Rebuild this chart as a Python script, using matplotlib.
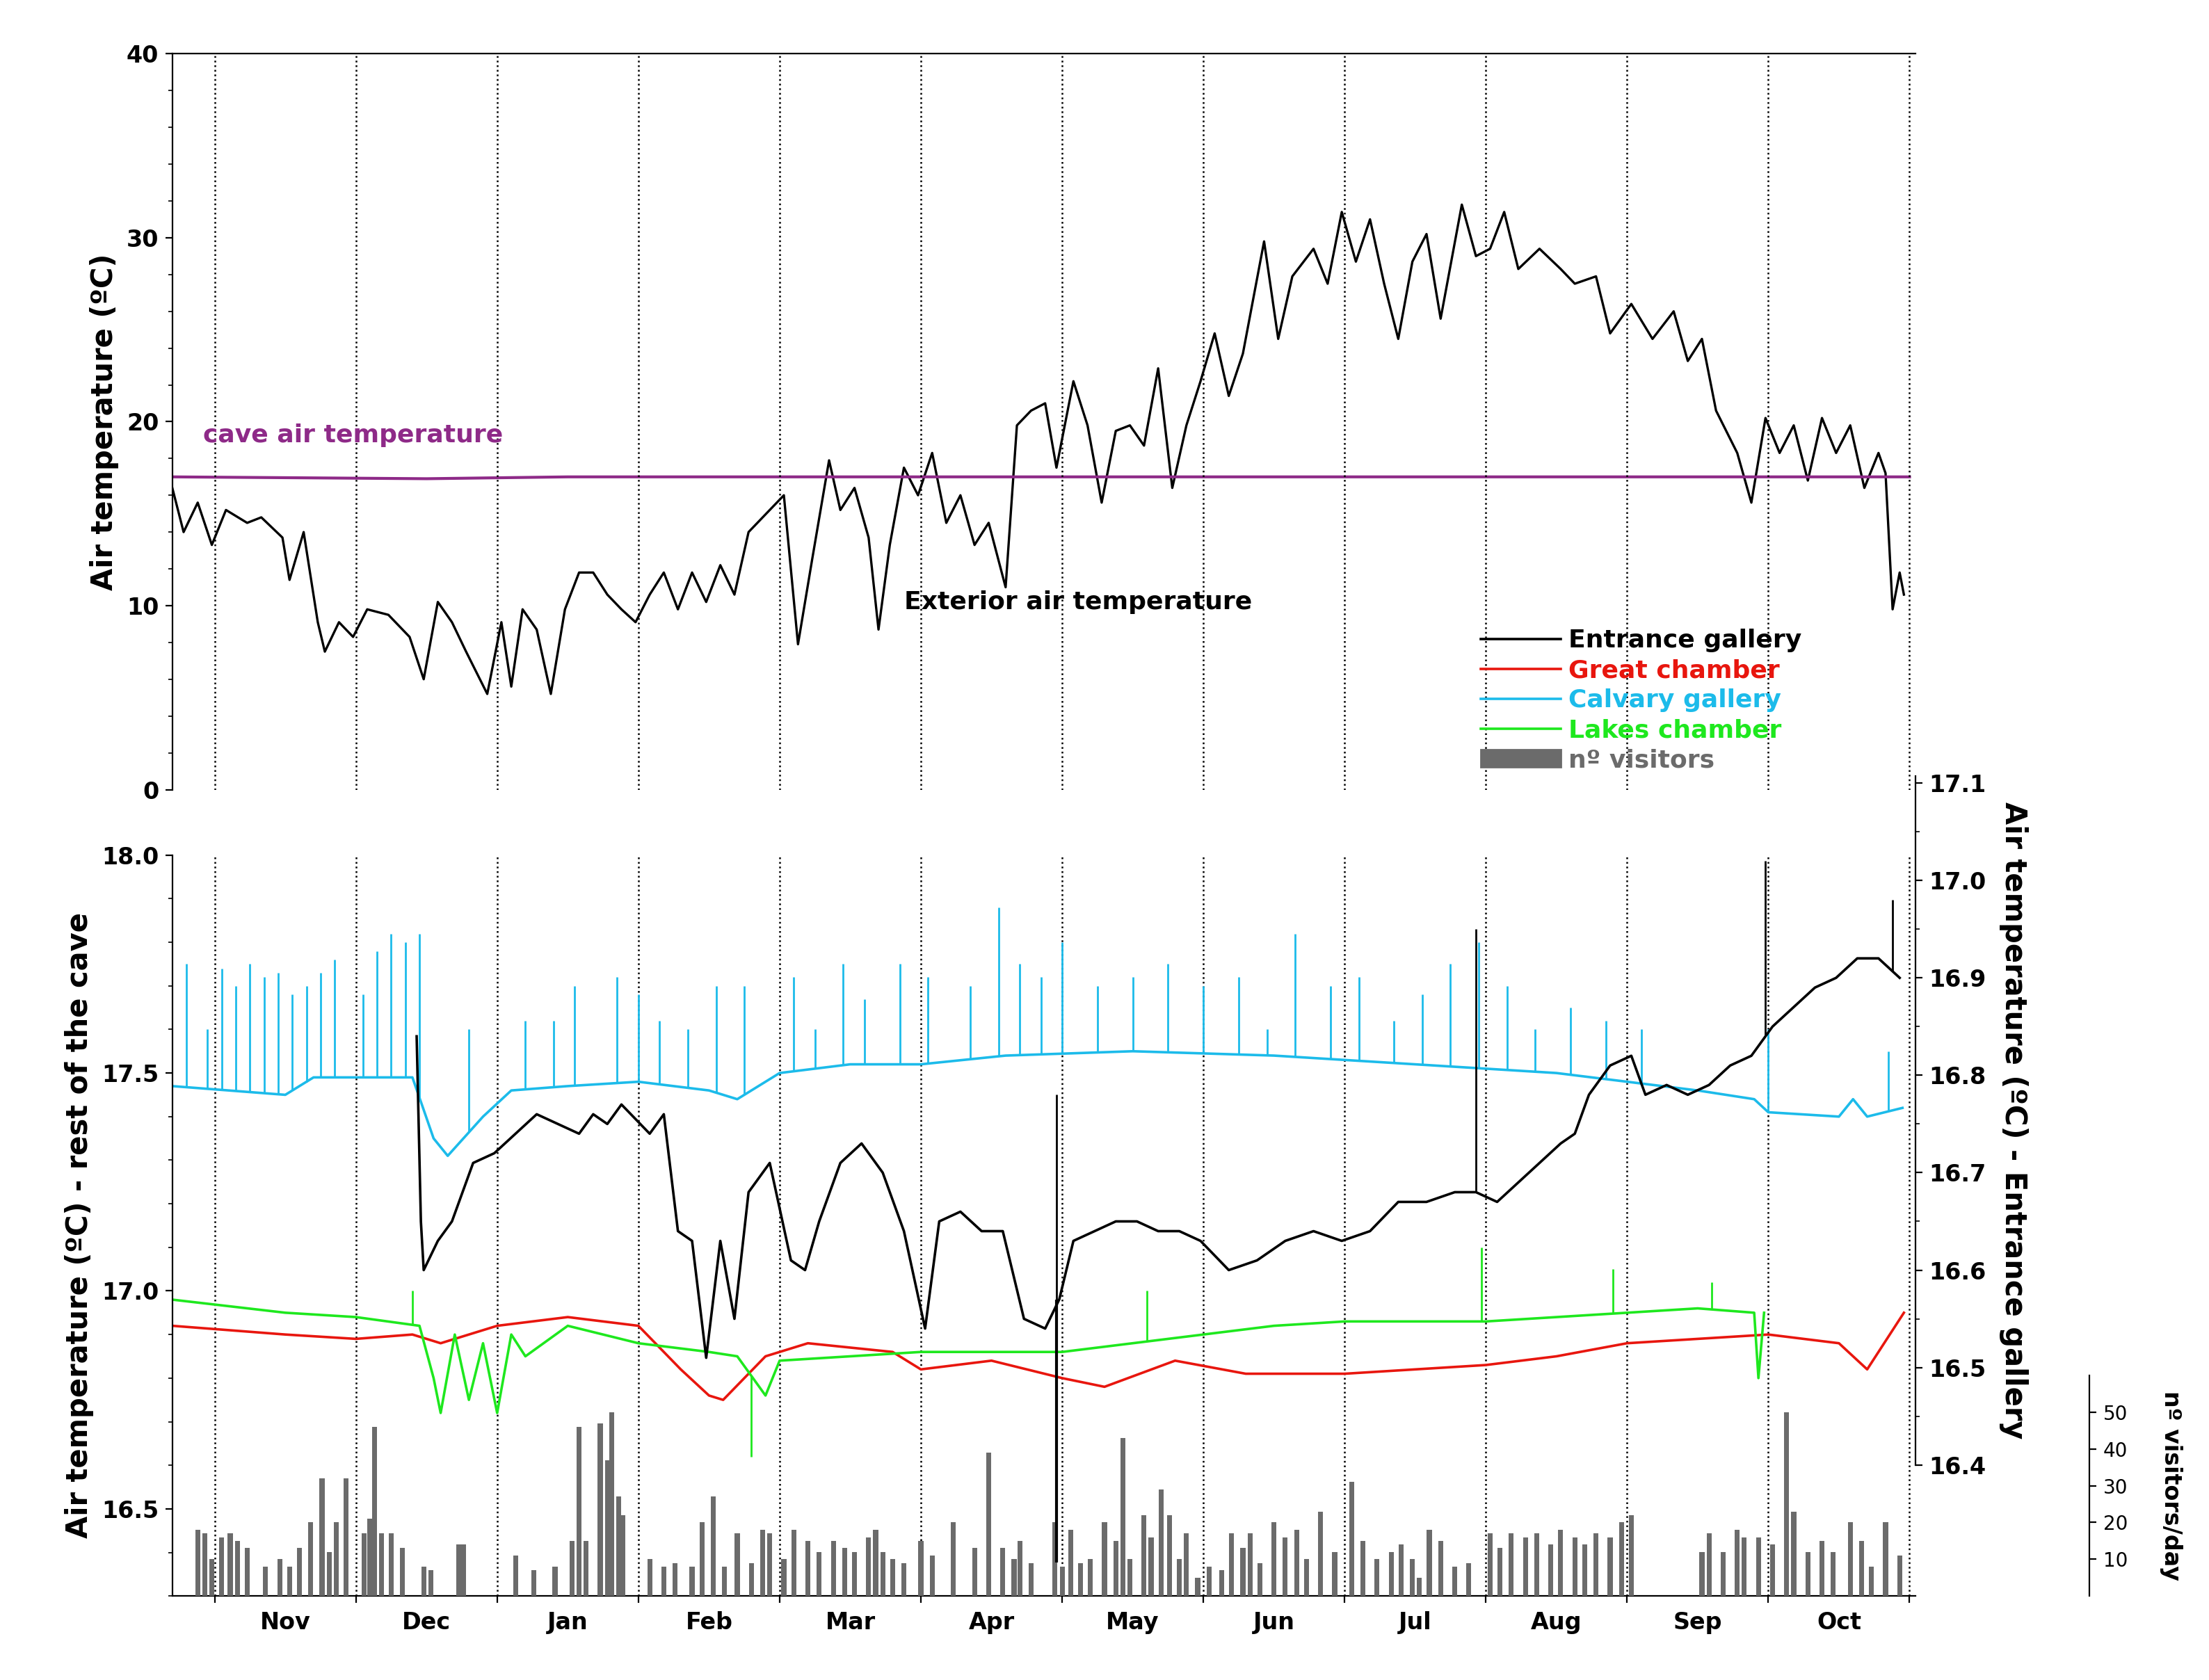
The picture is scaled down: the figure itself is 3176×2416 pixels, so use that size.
import numpy as np
import matplotlib
matplotlib.use("Agg")
import matplotlib.pyplot as plt
from matplotlib.lines import Line2D
from matplotlib.patches import Patch

months = ["Nov","Dec","Jan","Feb","Mar","Apr","May","Jun","Jul","Aug","Sep","Oct"]

ext_m = [-0.30,-0.22,-0.12,-0.02,0.08,0.23,0.33,0.48,0.53,0.63,0.73,0.78,0.88,0.98,1.08,1.23,1.38,1.48,1.58,1.68,1.78,1.93,2.03,2.10,2.18,2.28,2.38,2.48,2.58,2.68,2.78,2.88,2.98,3.08,3.18,3.28,3.38,3.48,3.58,3.68,3.78,3.93,4.03,4.13,4.23,4.35,4.43,4.53,4.63,4.70,4.78,4.88,4.98,5.08,5.18,5.28,5.38,5.48,5.60,5.68,5.78,5.88,5.96,6.08,6.18,6.28,6.38,6.48,6.58,6.68,6.78,6.88,6.98,7.08,7.18,7.28,7.43,7.53,7.63,7.78,7.88,7.98,8.08,8.18,8.28,8.38,8.48,8.58,8.68,8.83,8.93,9.03,9.13,9.23,9.38,9.53,9.63,9.78,9.88,10.03,10.18,10.33,10.43,10.53,10.63,10.78,10.88,10.98,11.08,11.18,11.28,11.38,11.48,11.58,11.68,11.78,11.83,11.88,11.93,11.96]
ext_t = [16.4,14,15.6,13.3,15.2,14.5,14.8,13.7,11.4,14,9.1,7.5,9.1,8.3,9.8,9.5,8.3,6,10.2,9.1,7.5,5.2,9.1,5.6,9.8,8.7,5.2,9.8,11.8,11.8,10.6,9.8,9.1,10.6,11.8,9.8,11.8,10.2,12.2,10.6,14,15.2,16,7.9,12.5,17.9,15.2,16.4,13.7,8.7,13.3,17.5,16,18.3,14.5,16,13.3,14.5,11,19.8,20.6,21,17.5,22.2,19.8,15.6,19.5,19.8,18.7,22.9,16.4,19.8,22.2,24.8,21.4,23.7,29.8,24.5,27.9,29.4,27.5,31.4,28.7,31,27.5,24.5,28.7,30.2,25.6,31.8,29,29.4,31.4,28.3,29.4,28.3,27.5,27.9,24.8,26.4,24.5,26,23.3,24.5,20.6,18.3,15.6,20.2,18.3,19.8,16.8,20.2,18.3,19.8,16.4,18.3,17.2,9.8,11.8,10.6]

cave_m = [-0.3,1.5,2.5,12.0]
cave_t = [17.0,16.9,17.0,17.0]

calv_m = [-0.3,0.5,0.7,1.4,1.55,1.65,1.9,2.1,2.5,3.0,3.5,3.7,4.0,4.5,5.0,5.6,6.5,7.5,8.5,9.0,9.5,10.0,10.5,10.9,11.0,11.5,11.6,11.7,11.95]
calv_t = [17.47,17.45,17.49,17.49,17.35,17.31,17.40,17.46,17.47,17.48,17.46,17.44,17.50,17.52,17.52,17.54,17.55,17.54,17.52,17.51,17.50,17.48,17.46,17.44,17.41,17.40,17.44,17.40,17.42]
calv_spk_m = [-0.2,-0.05,0.05,0.15,0.25,0.35,0.45,0.55,0.65,0.75,0.85,1.05,1.15,1.25,1.35,1.45,1.8,2.2,2.4,2.55,2.85,3.0,3.15,3.35,3.55,3.75,4.1,4.25,4.45,4.6,4.85,5.05,5.35,5.55,5.7,5.85,6.0,6.25,6.5,6.75,7.0,7.25,7.45,7.65,7.9,8.1,8.35,8.55,8.75,8.95,9.15,9.35,9.6,9.85,10.1,11.0,11.85]
calv_spk_t = [17.75,17.6,17.74,17.7,17.75,17.72,17.73,17.68,17.7,17.73,17.76,17.68,17.78,17.82,17.8,17.82,17.6,17.62,17.62,17.7,17.72,17.68,17.62,17.6,17.7,17.7,17.72,17.6,17.75,17.67,17.75,17.72,17.7,17.88,17.75,17.72,17.8,17.7,17.72,17.75,17.7,17.72,17.6,17.82,17.7,17.72,17.62,17.68,17.75,17.8,17.7,17.6,17.65,17.62,17.6,17.6,17.55]

lake_m = [-0.3,0.5,1.0,1.45,1.55,1.6,1.7,1.8,1.9,2.0,2.1,2.2,2.5,3.0,3.5,3.7,3.9,4.0,4.5,5.0,5.5,6.0,6.5,7.0,7.5,8.0,8.5,9.0,9.5,10.0,10.5,10.9,10.93,10.97]
lake_t = [16.98,16.95,16.94,16.92,16.80,16.72,16.90,16.75,16.88,16.72,16.90,16.85,16.92,16.88,16.86,16.85,16.76,16.84,16.85,16.86,16.86,16.86,16.88,16.90,16.92,16.93,16.93,16.93,16.94,16.95,16.96,16.95,16.80,16.95]
lake_spk_m = [1.4,3.8,6.6,8.97,9.9,10.6]
lake_spk_t = [17.0,16.62,17.0,17.1,17.05,17.02]

great_m = [-0.3,0.5,1.0,1.4,1.6,2.0,2.5,3.0,3.3,3.5,3.6,3.9,4.2,4.5,4.8,5.0,5.5,6.0,6.3,6.8,7.3,8.0,8.5,9.0,9.5,10.0,10.5,11.0,11.5,11.7,11.96]
great_t = [16.92,16.90,16.89,16.90,16.88,16.92,16.94,16.92,16.82,16.76,16.75,16.85,16.88,16.87,16.86,16.82,16.84,16.80,16.78,16.84,16.81,16.81,16.82,16.83,16.85,16.88,16.89,16.90,16.88,16.82,16.95]

ent_m = [1.43,1.46,1.48,1.58,1.68,1.83,1.98,2.13,2.28,2.43,2.58,2.68,2.78,2.88,3.08,3.18,3.28,3.38,3.48,3.58,3.68,3.78,3.93,4.08,4.18,4.28,4.43,4.58,4.73,4.88,5.03,5.13,5.28,5.43,5.58,5.73,5.88,5.98,6.08,6.23,6.38,6.53,6.68,6.83,6.98,7.18,7.38,7.58,7.78,7.98,8.18,8.38,8.58,8.78,8.93,9.08,9.23,9.38,9.53,9.63,9.73,9.88,10.03,10.13,10.28,10.43,10.58,10.73,10.88,11.03,11.18,11.33,11.48,11.63,11.78,11.93]
ent_t = [16.84,16.65,16.60,16.63,16.65,16.71,16.72,16.74,16.76,16.75,16.74,16.76,16.75,16.77,16.74,16.76,16.64,16.63,16.51,16.63,16.55,16.68,16.71,16.61,16.60,16.65,16.71,16.73,16.70,16.64,16.54,16.65,16.66,16.64,16.64,16.55,16.54,16.57,16.63,16.64,16.65,16.65,16.64,16.64,16.63,16.60,16.61,16.63,16.64,16.63,16.64,16.67,16.67,16.68,16.68,16.67,16.69,16.71,16.73,16.74,16.78,16.81,16.82,16.78,16.79,16.78,16.79,16.81,16.82,16.85,16.87,16.89,16.90,16.92,16.92,16.90]
ent_spk_m = [5.96,8.93,10.98,11.88]
ent_spk_t = [16.78,16.95,17.02,16.98]

vis_m = [-0.12,-0.07,-0.02,0.05,0.11,0.16,0.23,0.36,0.46,0.53,0.6,0.68,0.76,0.81,0.86,0.93,1.06,1.1,1.13,1.18,1.25,1.33,1.48,1.53,1.73,1.76,2.13,2.26,2.41,2.53,2.58,2.63,2.73,2.78,2.81,2.86,2.89,3.08,3.18,3.26,3.38,3.45,3.53,3.61,3.7,3.8,3.88,3.93,4.03,4.1,4.2,4.28,4.38,4.46,4.53,4.63,4.68,4.73,4.8,4.88,5.0,5.08,5.23,5.38,5.48,5.58,5.66,5.7,5.78,5.95,6.0,6.06,6.13,6.2,6.3,6.38,6.43,6.48,6.58,6.63,6.7,6.76,6.83,6.88,6.96,7.04,7.13,7.2,7.28,7.33,7.4,7.5,7.58,7.66,7.73,7.83,7.93,8.05,8.13,8.23,8.33,8.4,8.48,8.53,8.6,8.68,8.78,8.88,9.03,9.1,9.18,9.28,9.36,9.46,9.53,9.63,9.7,9.78,9.88,9.96,10.03,10.53,10.58,10.68,10.78,10.83,10.93,11.03,11.13,11.18,11.28,11.38,11.46,11.58,11.66,11.73,11.83,11.93]
vis_n = [18,17,10,16,17,15,13,8,10,8,13,20,32,12,20,32,17,21,46,17,17,13,8,7,14,14,11,7,8,15,46,15,47,37,50,27,22,10,8,9,8,20,27,8,17,9,18,17,10,18,15,12,15,13,12,16,18,12,10,9,15,11,20,13,39,13,10,15,9,20,8,18,9,10,20,15,43,10,22,16,29,22,10,17,5,8,7,17,13,17,9,20,16,18,10,23,12,31,15,10,12,14,10,5,18,15,8,9,17,13,17,16,17,14,18,16,14,17,16,20,22,12,17,12,18,16,16,14,50,23,12,15,12,20,15,8,20,11]

BLUE = "#1CBBEA"; GREEN = "#1EE81E"; RED = "#E8160E"; PURP = "#8E2A88"; GREY = "#6B6B6B"
bold = dict(fontweight="bold")

fig = plt.figure(figsize=(15.88, 12.08), dpi=200)
XL = (-0.3, 12.04)

# top panel
ax1 = fig.add_axes([0.078, 0.530, 0.789, 0.438])
ax1.plot(ext_m, ext_t, color="black", lw=1.2)
ax1.plot(cave_m, cave_t, color=PURP, lw=1.5)
ax1.set_xlim(*XL); ax1.set_ylim(0, 40)
ax1.set_yticks([0,10,20,30,40]); ax1.set_yticks(np.arange(0,41,2), minor=True)
ax1.set_xticks([])
for s in ["right","bottom"]:
    ax1.spines[s].set_visible(False)
ax1.tick_params(labelsize=12)
for l in ax1.get_yticklabels(): l.set_fontweight("bold")
ax1.set_ylabel("Air temperature (ºC)", fontsize=15, **bold)
for k in range(13):
    ax1.axvline(k, color="black", ls=":", lw=0.9)
ax1.text(-0.08, 18.9, "cave air temperature", color=PURP, fontsize=13, **bold)
ax1.text(4.88, 9.8, "Exterior air temperature", color="black", fontsize=13, **bold)

# bottom panel
ax2 = fig.add_axes([0.078, 0.050, 0.789, 0.441])
ax2.set_xlim(*XL); ax2.set_ylim(16.3, 18.0)
for k in range(13):
    ax2.axvline(k, color="black", ls=":", lw=0.9)
ax2.plot(calv_m, calv_t, color=BLUE, lw=1.3)
ax2.vlines(calv_spk_m, np.interp(calv_spk_m, calv_m, calv_t), calv_spk_t, color=BLUE, lw=1.0)
ax2.plot(great_m, great_t, color=RED, lw=1.3)
ax2.plot(lake_m, lake_t, color=GREEN, lw=1.3)
ax2.vlines(lake_spk_m, np.interp(lake_spk_m, lake_m, lake_t), lake_spk_t, color=GREEN, lw=1.0)
ax2.set_yticks([16.5,17.0,17.5,18.0]); ax2.set_yticks(np.arange(16.3,18.01,0.1), minor=True)
ax2.set_yticklabels(["16.5","17.0","17.5","18.0"], fontsize=12, fontweight="bold")
ax2.set_xticks(range(13)); ax2.set_xticklabels([])
ax2.set_xticks(np.arange(0.5,12,1), minor=True)
ax2.set_xticklabels(months, minor=True, fontsize=12, fontweight="bold")
ax2.tick_params(axis="x", which="minor", length=0, pad=8)
ax2.set_ylabel("Air temperature (ºC) - rest of the cave", fontsize=15, **bold)
for s in ["right","top"]:
    ax2.spines[s].set_visible(False)

# visitors
ax4 = ax2.twinx()
ax4.bar(vis_m, vis_n, width=0.035, color=GREY)
ax4.set_ylim(0, 201.5); ax4.set_xlim(*XL)
ax4.set_yticks([10,20,30,40,50])
ax4.set_yticklabels(["10","20","30","40","50"], fontsize=11, fontweight="bold")
for s in ["top","left","bottom"]:
    ax4.spines[s].set_visible(False)
ax4.spines["right"].set_position(("axes", 1.10))
ax4.spines["right"].set_bounds(0, 60)
ax4.text(1.147, 30, "nº visitors/day", rotation=-90, transform=ax4.get_yaxis_transform(),
         ha="center", va="center", fontsize=12, **bold)

# entrance gallery (right axis)
ax3 = fig.add_axes([0.078, 0.128, 0.789, 0.410])
ax3.patch.set_visible(False)
ax3.set_xlim(*XL); ax3.set_ylim(16.4, 17.107)
ax3.plot(ent_m, ent_t, color="black", lw=1.3)
ax3.vlines(ent_spk_m, np.interp(ent_spk_m, ent_m, ent_t), ent_spk_t, color="black", lw=1.0)
ax3.vlines([5.96], [16.3], [16.57], color="black", lw=1.5, clip_on=False)
for s in ["top","left","bottom"]:
    ax3.spines[s].set_visible(False)
ax3.yaxis.tick_right(); ax3.yaxis.set_label_position("right")
ax3.set_xticks([])
ax3.set_yticks(np.arange(16.4,17.11,0.1))
ax3.set_yticklabels(["%.1f" % v for v in np.arange(16.4,17.11,0.1)], fontsize=12, fontweight="bold")
ax3.set_yticks(np.arange(16.4,17.11,0.05), minor=True)
ax3.set_ylabel("Air temperature (ºC) - Entrance gallery", rotation=-90, labelpad=22, fontsize=15, **bold)

handles = [Line2D([],[],color="black",lw=1.3), Line2D([],[],color=RED,lw=1.3),
           Line2D([],[],color=BLUE,lw=1.3), Line2D([],[],color=GREEN,lw=1.3),
           Patch(color=GREY)]
labels = ["Entrance gallery","Great chamber","Calvary gallery","Lakes chamber","nº visitors"]
leg = fig.legend(handles, labels, loc="lower left", bbox_to_anchor=(0.66, 0.527), frameon=False,
                 fontsize=13, labelcolor=["black",RED,BLUE,GREEN,GREY], handlelength=3.2,
                 labelspacing=0.25, handletextpad=0.3)
for t in leg.get_texts():
    t.set_fontweight("bold")

fig.savefig("out.png", dpi=200)
